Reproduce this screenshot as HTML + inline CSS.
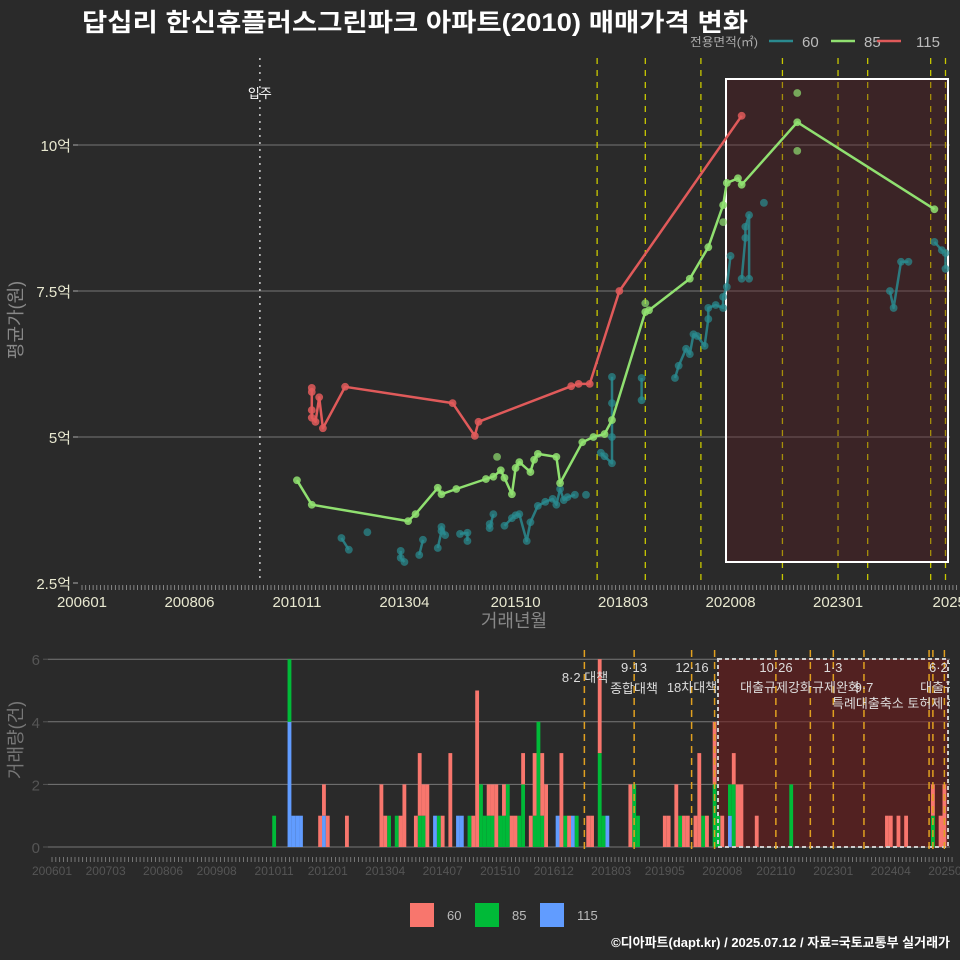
<!DOCTYPE html>
<html><head><meta charset="utf-8">
<style>
html,body{margin:0;padding:0;background:#2a2a2a;}
svg{display:block;font-family:"Liberation Sans","Noto Sans CJK KR",sans-serif;}
</style></head>
<body>
<svg id="chart" width="960" height="960" viewBox="0 0 960 960" xmlns="http://www.w3.org/2000/svg">
<rect width="960" height="960" fill="#2a2a2a"/>
<text x="82" y="31" fill="#ffffff" font-size="25" font-weight="bold" textLength="666" lengthAdjust="spacingAndGlyphs">답십리 한신휴플러스그린파크 아파트(2010) 매매가격 변화</text>
<g>
<text x="690" y="46" fill="#aaaaaa" font-size="12" textLength="68" lengthAdjust="spacingAndGlyphs">전용면적(㎡)</text>
<line x1="769" y1="41" x2="793" y2="41" stroke="#2a8a8f" stroke-width="2.5"/>
<text x="802" y="47" fill="#bbbbbb" font-size="15">60</text>
<line x1="831" y1="41" x2="855" y2="41" stroke="#90e070" stroke-width="2.5"/>
<text x="864" y="47" fill="#bbbbbb" font-size="15">85</text>
<line x1="877" y1="41" x2="901" y2="41" stroke="#e05a5a" stroke-width="2.5"/>
<text x="916" y="47" fill="#bbbbbb" font-size="15">115</text>
</g>
<g id="topG"></g>
<g id="botG"></g>
<g>
<rect x="410" y="903" width="24" height="24" fill="#f8766d"/>
<text x="447" y="920" fill="#bbbbbb" font-size="13">60</text>
<rect x="475" y="903" width="24" height="24" fill="#00ba38"/>
<text x="512" y="920" fill="#bbbbbb" font-size="13">85</text>
<rect x="540" y="903" width="24" height="24" fill="#619cff"/>
<text x="577" y="920" fill="#bbbbbb" font-size="13">115</text>
</g>
<text x="950" y="947" text-anchor="end" fill="#ffffff" font-size="13" font-weight="bold">©디아파트(dapt.kr) / 2025.07.12 / 자료=국토교통부 실거래가</text>
</svg>
<script>
// ---------- data ----------
const yTickVals = [2.5, 5, 7.5, 10];
const yTickLabels = ["2.5억", "5억", "7.5억", "10억"];
const xTopTicks = ["200601","200806","201011","201304","201510","201803","202008","202301","202507"];
const xTopTickLabels = ["200601","200806","201011","201304","201510","201803","202008","202301","2025"];
const xBotTicks = ["200601","200703","200806","200908","201011","201201","201304","201407","201510","201612","201803","201905","202008","202110","202301","202404","202507"];
const movein = "201001";
const policyTop = ["201708","201809","201912","202110","202301","202309","202502","202506"];
const policyBot = ["201708","201809","201912","202006","202110","202207","202301","202309","202502","202503","202506"];

const m60 = ["201111","201201","201206","201303","201303","201304","201308","201309","201401","201402","201402","201403","201407","201409","201409","201503","201503","201504","201507","201509","201510","201511","201601","201602","201604","201606","201608","201609","201610","201611","201612","201702","201705","201709","201710","201712","201712","201712","201712","201808","201808","201905","201906","201908","201909","201910","201911","202001","202002","202002","202004","202006","202006","202007","202008","202011","202012","202012","202101","202101","202105","202403","202404","202406","202408","202503","202505","202506","202506"];
const v60 = [3.27,3.07,3.37,3.05,2.93,2.86,2.98,3.24,3.10,3.39,3.46,3.32,3.34,3.36,3.22,3.51,3.44,3.68,3.48,3.61,3.66,3.68,3.22,3.54,3.82,3.89,3.94,3.84,4.11,3.92,3.97,4.01,4.01,4.73,4.67,4.55,5.00,5.58,6.03,6.01,5.63,6.01,6.22,6.51,6.42,6.76,6.73,6.56,7.02,7.21,7.26,7.21,7.40,7.57,8.10,7.71,8.41,8.60,8.80,7.71,9.01,7.50,7.21,8.00,8.00,8.34,8.20,8.15,7.88];

const m85 = ["201011","201103","201305","201307","201401","201402","201406","201502","201504","201506","201507","201509","201510","201511","201602","201603","201604","201609","201610","201704","201707","201710","201712","201809","201810","201909","202002","202006","202007","202010","202011","202202","202503"];
const v85 = [4.26,3.84,3.56,3.68,4.13,4.02,4.11,4.28,4.32,4.43,4.30,4.02,4.47,4.57,4.40,4.61,4.71,4.66,4.21,4.91,5.00,5.05,5.29,7.14,7.17,7.71,8.25,8.97,9.35,9.43,9.32,10.39,8.90];
const m85extra = ["201505","201809","202202","202202","202006"];
const v85extra = [4.66,7.29,10.89,9.90,8.68];

const m115 = ["201103","201103","201103","201103","201104","201105","201106","201112","201405","201411","201412","201701","201703","201706","201802","202011"];
const v115 = [5.84,5.77,5.46,5.33,5.26,5.68,5.15,5.86,5.58,5.02,5.26,5.87,5.91,5.91,7.50,10.50];

const bm60 = ["201111","201112","201201","201206","201303","201304","201308","201309","201312","201401","201402","201403","201407","201409","201503","201504","201507","201508","201509","201511","201601","201602","201604","201606","201607","201609","201610","201702","201704","201709","201710","201712","201808","201905","201906","201908","201910","201911","202001","202002","202004","202006","202008","202011","202012","202101","202105","202403","202404","202406","202408","202503","202505","202506"];
const bc60 = [1,1,1,1,2,1,1,2,1,2,1,2,1,3,1,5,1,1,2,1,1,1,1,1,2,2,2,3,1,1,1,3,2,1,1,2,1,1,1,3,1,2,1,1,2,2,1,1,1,1,1,1,1,2];
const bm85 = ["201011","201103","201305","201307","201401","201402","201406","201502","201505","201506","201507","201508","201510","201511","201512","201603","201604","201607","201608","201609","201703","201706","201712","201801","201809","201810","201909","202003","202006","202007","202010","202011","202202","202503"];
const bc85 = [1,2,1,1,1,1,1,1,2,1,1,1,1,1,2,1,2,1,4,1,1,1,3,1,2,1,1,1,2,1,1,2,2,1];
const bm115 = ["201103","201104","201105","201106","201112","201405","201411","201412","201701","201705","201802","202010"];
const bc115 = [4,1,1,1,1,1,1,1,1,1,1,1];

// ---------- scales ----------
const NS = "http://www.w3.org/2000/svg";
const mi = s => (+s.slice(0,4)-2006)*12 + (+s.slice(4)-1);
const xT = s => 82 + mi(s)*3.706;
const yT = v => 583 - (v-2.5)*58.4;
const xB = s => 52 + mi(s)*3.83;
const yB = c => 847 - c*31.3;
function mk(tag, attrs, parent, text){
  const e = document.createElementNS(NS, tag);
  for (const k in attrs) e.setAttribute(k, attrs[k]);
  if (text !== undefined) e.textContent = text;
  parent.appendChild(e);
  return e;
}
const topG = document.getElementById('topG');
const botG = document.getElementById('botG');

const defs = mk('defs', {}, document.getElementById('chart'));
const cp = mk('clipPath', {id:'clipTop'}, defs);
mk('rect', {x:78, y:55, width:872, height:530}, cp);
const cp2 = mk('clipPath', {id:'clipBot'}, defs);
mk('rect', {x:48, y:640, width:902, height:210}, cp2);

// ---------- top chart ----------
yTickVals.forEach((v,i)=>{
  if (i>0) {
    const g = mk('line', {x1:78, x2:950, y1:yT(v), y2:yT(v), stroke:'#777', 'stroke-width':1}, topG);
    
    
  }
  const t = mk('text', {x:71, y:yT(v)+6, 'text-anchor':'end', fill:'#e8e8d0', 'font-size':15}, topG, yTickLabels[i]);
  
  
  mk('line', {x1:73, x2:78, y1:yT(v), y2:yT(v), stroke:'#aaa'}, topG);
});
const yTitle = mk('text', {x:0, y:0, transform:'translate(22,320) rotate(-90)', 'text-anchor':'middle', fill:'#888', 'font-size':18}, topG, '평균가(원)');


for (let m=0; m<=236; m++){
  mk('line', {x1:82+m*3.706, x2:82+m*3.706, y1:585, y2:590, stroke:'#999', 'stroke-width':0.8}, topG);
}
xTopTicks.forEach((s,i)=>{
  const t = mk('text', {x:xT(s), y:607, 'text-anchor':'middle', fill:'#e8e8d0', 'font-size':15}, topG, xTopTickLabels[i]);
  
  
});
const xTitle = mk('text', {x:514, y:627, 'text-anchor':'middle', fill:'#888', 'font-size':18}, topG, '거래년월');



const gt = mk('g', {'clip-path':'url(#clipTop)'}, topG);
const mv = mk('line', {x1:xT(movein), x2:xT(movein), y1:58, y2:583, stroke:'#ccc', 'stroke-width':1.5, 'stroke-dasharray':'2,5'}, gt);


const mvt = mk('text', {x:xT(movein), y:98, 'text-anchor':'middle', fill:'#fff', 'font-size':13}, gt, '입주');


policyTop.forEach(s=>{
  const l = mk('line', {x1:xT(s), x2:xT(s), y1:58, y2:583, stroke:'#c8c800', 'stroke-width':1.3, 'stroke-dasharray':'6,6'}, gt);
  
  
});
const hb = mk('rect', {x:726, y:79, width:222, height:483, fill:'rgba(95,25,30,0.32)', stroke:'#fff', 'stroke-width':2}, gt);



function drawSeries(ms, vs, color, name, connectAll, op){
  let d = '';
  for (let i=0;i<ms.length;i++){
    const jump = i===0 || (!connectAll && mi(ms[i])-mi(ms[i-1])>2);
    d += (jump?'M':'L') + xT(ms[i]).toFixed(1)+','+yT(vs[i]).toFixed(1);
  }
  const p = mk('path', {d:d, fill:'none', stroke:color, 'stroke-width':2.5, 'stroke-linejoin':'round', opacity:op}, gt);
  
  
  for (let i=0;i<ms.length;i++){
    const c = mk('circle', {cx:xT(ms[i]), cy:yT(vs[i]), r:3.9, fill:color, opacity:op*0.85}, gt);
    
    
  }
}
drawSeries(m60, v60, '#2a8a8f', 'series-60', false, 0.85);
drawSeries(m85, v85, '#90e070', 'series-85', true, 1);
m85extra.forEach((s,i)=>{
  const c = mk('circle', {cx:xT(s), cy:yT(v85extra[i]), r:3.9, fill:'#90e070', opacity:0.7}, gt);
  
  
});
drawSeries(m115, v115, '#e05a5a', 'series-115', true, 1);

// ---------- bottom chart ----------
[0,2,4,6].forEach(c=>{
  const g = mk('line', {x1:48, x2:950, y1:yB(c), y2:yB(c), stroke:'#777', 'stroke-width':1}, botG);
  
  
  mk('line', {x1:43, x2:48, y1:yB(c), y2:yB(c), stroke:'#555'}, botG);
  const t = mk('text', {x:40, y:yB(c)+6, 'text-anchor':'end', fill:'#555', 'font-size':15}, botG, String(c));
  
  
});
const yt2 = mk('text', {x:0, y:0, transform:'translate(22,740) rotate(-90)', 'text-anchor':'middle', fill:'#777', 'font-size':18}, botG, '거래량(건)');


for (let m=0; m<=235; m++){
  mk('line', {x1:52+m*3.83, x2:52+m*3.83, y1:857, y2:862, stroke:'#888', 'stroke-width':0.8}, botG);
}
xBotTicks.forEach(s=>{
  const t = mk('text', {x:xB(s), y:875, 'text-anchor':'middle', fill:'#555', 'font-size':12}, botG, s);
  
  
});
const gb = mk('g', {'clip-path':'url(#clipBot)'}, botG);
const bb = mk('rect', {x:718, y:659, width:230, height:188, fill:'rgba(115,25,25,0.55)'}, gb);


const stackBase = {};
function drawBars(ms, cs, color, name){
  ms.forEach((s,i)=>{
    const base = stackBase[s] || 0;
    const r = mk('rect', {x:xB(s)-1.9, y:yB(base+cs[i]), width:3.83, height:cs[i]*31.3, fill:color}, gb);
    
    
    stackBase[s] = base + cs[i];
  });
}
drawBars(bm115, bc115, '#619cff', 'bar-115');
drawBars(bm85, bc85, '#00ba38', 'bar-85');
drawBars(bm60, bc60, '#f8766d', 'bar-60');
const bbo = mk('rect', {x:718, y:659, width:230, height:188, fill:'none', stroke:'#ccc', 'stroke-width':2, 'stroke-dasharray':'4,3'}, gb);


policyBot.forEach(s=>{
  const l = mk('line', {x1:xB(s), x2:xB(s), y1:650, y2:858, stroke:'#e0a020', 'stroke-width':1.5, 'stroke-dasharray':'7,5'}, gb);
  
  
});
const policyLabels = [
  [585,682,'8·2 대책','middle'],[634,672,'9·13','middle'],[634,693,'종합대책','middle'],[692,672,'12·16','middle'],[692,692,'18차대책','middle'],
  [776,672,'10·26','middle'],[776,692,'대출규제강화','middle'],[833,672,'1·3','middle'],[836,692,'규제완화','middle'],[864,692,'9·7','middle'],
  [832,708,'특례대출축소 토허제 해제','start'],[942,672,'6·27','middle'],[944,692,'대출규제','middle']
];
policyLabels.forEach(p=>{
  const t = mk('text', {x:p[0], y:p[1], 'text-anchor':p[3], fill:'#dddddd', 'font-size':13}, gb, p[2]);
  
  
});
</script>
</body></html>
